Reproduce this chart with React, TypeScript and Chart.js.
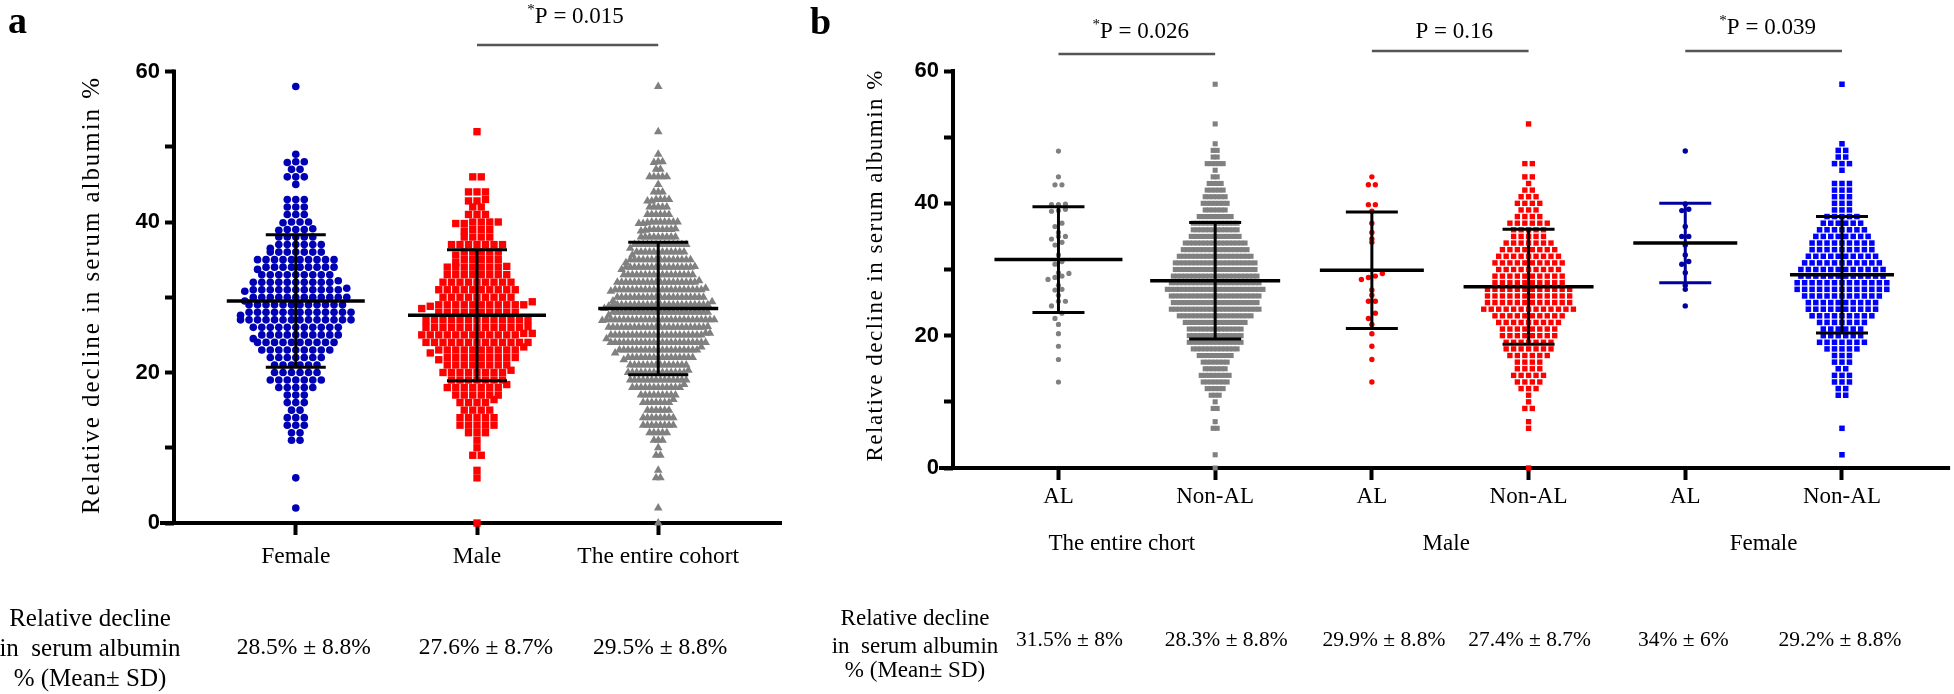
import React, { useEffect, useRef } from 'react';
import { Chart, registerables } from 'chart.js';

Chart.register(...registerables);

// ---------------- data ----------------
const panelACategories = ['Female', 'Male', 'The entire cohort'];
const panelBCategories = ['AL', 'Non-AL', 'AL', 'Non-AL', 'AL', 'Non-AL'];
const panelBGroups = ['The entire chort', 'Male', 'Female'];
const yTickValues = [0, 10, 20, 30, 40, 50, 60];
const yLabelledTicks = [0, 20, 40, 60];
const yAxisTitle = 'Relative decline in serum albumin %';

// number of non-AL patients at each whole percent (index = percent, 0..59)
const femaleNonAlCounts = [
  0, 0, 1, 0, 0, 0, 1, 0, 0, 0,
  0, 2, 2, 3, 3, 2, 3, 3, 5, 7,
  6, 6, 7, 9, 10, 10, 11, 13, 13, 12,
  12, 11, 10, 9, 9, 8, 7, 6, 5, 3,
  3, 3, 3, 3, 0, 1, 3, 2, 2, 1,
  0, 0, 0, 0, 0, 0, 0, 0, 1, 0,
];
const maleNonAlCounts = [
  1, 0, 0, 0, 0, 0, 1, 1, 0, 2,
  1, 1, 3, 4, 5, 4, 4, 6, 7, 7,
  8, 8, 9, 10, 13, 12, 12, 12, 10, 10,
  9, 10, 9, 8, 7, 5, 5, 6, 4, 3,
  4, 3, 2, 1, 2, 0, 2, 0, 0, 0,
  0, 0, 1, 0, 0, 0, 0, 0, 0, 0,
];
// individual AL patients
const femaleAlValues = [47.9, 39.9, 39.1, 38.9, 36.5, 35.0, 35.0, 33.7, 32.2, 31.2, 30.8, 29.5, 27.6, 27.0, 24.5];
const maleAlValues = [44.0, 42.8, 42.8, 39.8, 39.8, 38.8, 37.0, 35.6, 34.6, 34.1, 29.4, 29.0, 28.8, 28.5, 26.9, 26.1, 25.2, 25.2, 23.4, 22.6, 21.7, 20.3, 18.4, 16.4, 13.0];

const panelAMeans = [29.5, 27.6, 28.5];
const panelASds = [8.8, 8.7, 8.8];
const panelBMeans = [31.5, 28.3, 29.9, 27.4, 34.0, 29.2];
const panelBSds = [8.0, 8.8, 8.8, 8.7, 6.0, 8.8];

const panelAStatText = ['28.5% ± 8.8%', '27.6% ± 8.7%', '29.5% ± 8.8%'];
const panelBStatText = ['31.5% ± 8%', '28.3% ± 8.8%', '29.9% ± 8.8%', '27.4% ± 8.7%', '34% ± 6%', '29.2% ± 8.8%'];
const statRowTitle = ['Relative decline', 'in  serum albumin', '% (Mean± SD)'];

const panelAPairs = [[1, 2]];
const panelAPText = ['P = 0.015'];
const panelAPStar = [true];
const panelBPairs = [[0, 1], [2, 3], [4, 5]];
const panelBPText = ['P = 0.026', 'P = 0.16', 'P = 0.039'];
const panelBPStar = [true, false, true];

// ---------------- derived groups ----------------
const expand = (counts: number[]) => counts.flatMap((n, v) => Array(n).fill(v));
const femaleNonAl = expand(femaleNonAlCounts);
const maleNonAl = expand(maleNonAlCounts);
const femaleAll = [...femaleNonAl, ...femaleAlValues];
const maleAll = [...maleNonAl, ...maleAlValues];
const cohortAll = [...femaleAll, ...maleAll];
const cohortAl = [...maleAlValues, ...femaleAlValues];
const cohortNonAl = [...maleNonAl, ...femaleNonAl];

// ---------------- styles & layout ----------------
const SERIF = "'Liberation Serif', 'Times New Roman', Times, serif";
const SANS = "'Liberation Sans', Arial, Helvetica, sans-serif";
const GREY = '#808080';
const RED = '#ff0000';
const NAVY = '#0000b4';
const DARKNAVY = '#0000a0';
const BLUE = '#0000ff';

type Geom = { w: number; h: number; left: number; right: number; top: number; bottom: number; xMin: number; xMax: number; axisW: number; tickPad: number; tickFont: number };
const GEOM_A: Geom = { w: 800, h: 694, left: 174, right: 782, top: 71.5, bottom: 523, xMin: -0.672, xMax: 2.683, axisW: 60, tickPad: 8, tickFont: 23.5 };
const GEOM_B: Geom = { w: 1154, h: 694, left: 153, right: 1154, top: 71, bottom: 468, xMin: -0.673, xMax: 5.69, axisW: 60, tickPad: 3, tickFont: 23 };
const pxPerUnit = (g: Geom) => (g.right - g.left) / (g.xMax - g.xMin);

// GraphPad-like scatter-dot layout: rows at whole percent, centred on the category
function swarm(values: number[], cat: number, g: Geom, maxSpacing: number, maxWidth: number) {
  const rows = new Map<number, number[]>();
  values.forEach((v) => {
    const k = Math.round(v);
    if (!rows.has(k)) rows.set(k, []);
    rows.get(k)!.push(v);
  });
  let nMax = 1;
  rows.forEach((r) => { nMax = Math.max(nMax, r.length); });
  const s = nMax > 1 ? Math.min(maxSpacing, maxWidth / (nMax - 1)) : maxSpacing;
  const ppu = pxPerUnit(g);
  const pts: { x: number; y: number }[] = [];
  rows.forEach((r) => {
    r.sort((a, b) => a - b);
    r.forEach((v, i) => pts.push({ x: cat + ((i - (r.length - 1) / 2) * s) / ppu, y: v }));
  });
  return pts;
}

function makeDataset(values: number[], cat: number, g: Geom, shape: string, r: number, color: string, spacing: number, maxWidth: number) {
  return {
    data: swarm(values, cat, g, spacing, maxWidth),
    pointStyle: shape,
    pointRadius: r,
    pointHoverRadius: r,
    backgroundColor: color,
    borderColor: color,
    borderWidth: 0,
    clip: false as any,
  };
}

function line(ctx: CanvasRenderingContext2D, x1: number, y1: number, x2: number, y2: number) {
  ctx.beginPath();
  ctx.moveTo(x1, y1);
  ctx.lineTo(x2, y2);
  ctx.stroke();
}

function drawAxes(chart: any) {
  const { ctx, chartArea: ca, scales } = chart;
  const yTop = scales.y.getPixelForValue(60);
  ctx.save();
  ctx.strokeStyle = '#000';
  ctx.lineWidth = 4;
  line(ctx, ca.left, yTop - 2, ca.left, ca.bottom + 2);
  line(ctx, ca.left - 14, ca.bottom, ca.right, ca.bottom);
  ctx.restore();
}

function drawErrorBars(chart: any, means: number[], sds: number[], meanHalf: number[], capHalf: number, barColors: string[]) {
  const { ctx, scales: { x, y } } = chart;
  means.forEach((m, i) => {
    const px = x.getPixelForValue(i);
    const yM = y.getPixelForValue(m);
    const yH = y.getPixelForValue(m + sds[i]);
    const yL = y.getPixelForValue(m - sds[i]);
    ctx.save();
    ctx.strokeStyle = barColors[i];
    ctx.lineWidth = 3;
    line(ctx, px, yH, px, yL);
    line(ctx, px - capHalf, yH, px + capHalf, yH);
    line(ctx, px - capHalf, yL, px + capHalf, yL);
    ctx.strokeStyle = '#000';
    ctx.lineWidth = 3.5;
    line(ctx, px - meanHalf[i], yM, px + meanHalf[i], yM);
    ctx.restore();
  });
}

function drawRotatedTitle(ctx: any, text: string, cx: number, cy: number, font: string, targetLen: number) {
  ctx.save();
  ctx.font = font;
  const natural = ctx.measureText(text).width;
  const ls = Math.max(0, (targetLen - natural) / (text.length - 1));
  ctx.translate(cx, cy);
  ctx.rotate(-Math.PI / 2);
  ctx.letterSpacing = `${ls}px`;
  ctx.fillStyle = '#000';
  ctx.textAlign = 'center';
  ctx.textBaseline = 'middle';
  ctx.fillText(text, ls / 2, 0);
  ctx.restore();
}

function drawComparisons(chart: any, pairs: number[][], texts: string[], stars: boolean[], lineYs: number[], baselines: number[], dx: number) {
  const { ctx, scales: { x } } = chart;
  pairs.forEach(([a, b], i) => {
    const x1 = x.getPixelForValue(a);
    const x2 = x.getPixelForValue(b);
    ctx.save();
    ctx.strokeStyle = '#555';
    ctx.lineWidth = 2.5;
    line(ctx, x1, lineYs[i], x2, lineYs[i]);
    ctx.font = `23px ${SERIF}`;
    const w = ctx.measureText(texts[i]).width;
    ctx.font = `15px ${SERIF}`;
    const sw = stars[i] ? ctx.measureText('*').width : 0;
    const start = (x1 + x2) / 2 + dx - (w + sw) / 2;
    ctx.fillStyle = '#000';
    ctx.textAlign = 'left';
    ctx.textBaseline = 'alphabetic';
    if (stars[i]) ctx.fillText('*', start, baselines[i] - 9);
    ctx.font = `23px ${SERIF}`;
    ctx.fillText(texts[i], start + sw, baselines[i]);
    ctx.restore();
  });
}

function drawStatTitle(ctx: any, cx: number, baselines: number[], size: number) {
  ctx.save();
  ctx.font = `${size}px ${SERIF}`;
  ctx.fillStyle = '#000';
  ctx.textAlign = 'center';
  ctx.textBaseline = 'alphabetic';
  statRowTitle.forEach((t, i) => ctx.fillText(t, cx, baselines[i]));
  ctx.restore();
}

function drawStatValues(chart: any, texts: string[], baseline: number, dxs: number[], size: number) {
  const { ctx, scales: { x } } = chart;
  ctx.save();
  ctx.font = `${size}px ${SERIF}`;
  ctx.fillStyle = '#000';
  ctx.textAlign = 'center';
  ctx.textBaseline = 'alphabetic';
  texts.forEach((t, i) => ctx.fillText(t, x.getPixelForValue(i) + dxs[i], baseline));
  ctx.restore();
}

const panelAPlugin = {
  id: 'panelADecor',
  beforeDatasetsDraw(chart: any) { drawAxes(chart); },
  afterDatasetsDraw(chart: any) {
    drawErrorBars(chart, panelAMeans, panelASds, [69, 69, 60], 30, ['#000', '#000', '#000']);
  },
  afterDraw(chart: any) {
    const { ctx } = chart;
    ctx.save();
    ctx.fillStyle = '#000';
    ctx.font = `bold 38px ${SERIF}`;
    ctx.textAlign = 'left';
    ctx.textBaseline = 'alphabetic';
    ctx.fillText('a', 8, 33);
    ctx.restore();
    drawRotatedTitle(ctx, yAxisTitle, 92, 296, `25px ${SERIF}`, 436);
    drawComparisons(chart, panelAPairs, panelAPText, panelAPStar, [45], [23], 8);
    drawStatTitle(ctx, 90, [626, 656, 686], 25);
    drawStatValues(chart, panelAStatText, 654, [8, 9, 2], 23.5);
  },
};

const groupLabelShift = [-15, -4, 0];

const panelBPlugin = {
  id: 'panelBDecor',
  beforeDatasetsDraw(chart: any) { drawAxes(chart); },
  afterDatasetsDraw(chart: any) {
    drawErrorBars(chart, panelBMeans, panelBSds, [64, 65, 52, 65, 52, 52], 26, ['#000', '#000', '#000', '#000', DARKNAVY, '#000']);
  },
  afterDraw(chart: any) {
    const { ctx, scales: { x } } = chart;
    ctx.save();
    ctx.fillStyle = '#000';
    ctx.font = `bold 38px ${SERIF}`;
    ctx.textAlign = 'left';
    ctx.textBaseline = 'alphabetic';
    ctx.fillText('b', 10, 34);
    ctx.font = `23px ${SERIF}`;
    ctx.textAlign = 'center';
    panelBGroups.forEach((g, i) => {
      const mid = (x.getPixelForValue(2 * i) + x.getPixelForValue(2 * i + 1)) / 2;
      ctx.fillText(g, mid + groupLabelShift[i], 550);
    });
    ctx.restore();
    drawRotatedTitle(ctx, yAxisTitle, 76, 266, `23px ${SERIF}`, 391);
    drawComparisons(chart, panelBPairs, panelBPText, panelBPStar, [54, 51, 51], [38, 38, 34], 4);
    drawStatTitle(ctx, 115, [625, 653, 677], 23);
    drawStatValues(chart, panelBStatText, 646, [11, 11, 12, 1, -2, -2], 21.5);
  },
};

function makeConfig(g: Geom, categories: string[], datasets: any[], plugin: any): any {
  return {
    type: 'scatter',
    data: { datasets },
    options: {
      animation: false,
      responsive: false,
      maintainAspectRatio: false,
      events: [],
      layout: { padding: { left: g.left - g.axisW, right: g.w - g.right, top: g.top, bottom: 0 } },
      plugins: { legend: { display: false }, tooltip: { enabled: false }, title: { display: false } },
      scales: {
        x: {
          type: 'linear',
          min: g.xMin,
          max: g.xMax,
          afterFit: (s: any) => { s.height = g.h - g.bottom; },
          afterBuildTicks: (s: any) => { s.ticks = categories.map((_, i) => ({ value: i })); },
          ticks: {
            autoSkip: false,
            maxRotation: 0,
            minRotation: 0,
            padding: g.tickPad,
            color: '#000',
            font: { family: SERIF, size: g.tickFont },
            callback: (v: number) => categories[v] ?? '',
          },
          grid: { drawOnChartArea: false, drawTicks: true, tickLength: 12, tickWidth: 4, tickColor: '#000' },
          border: { display: false },
        },
        y: {
          type: 'linear',
          min: 0,
          max: 60,
          afterFit: (s: any) => { s.width = g.axisW; },
          afterBuildTicks: (s: any) => { s.ticks = yTickValues.map((v) => ({ value: v })); },
          ticks: {
            autoSkip: false,
            padding: 5,
            color: '#000',
            font: { family: SANS, size: 22, weight: 'bold' },
            callback: (v: number) => (yLabelledTicks.includes(v) ? String(v) : ''),
          },
          grid: { drawOnChartArea: false, drawTicks: true, tickLength: 9, tickWidth: 4, tickColor: '#000' },
          border: { display: false },
        },
      },
    },
    plugins: [plugin],
  };
}

export default function App() {
  const refA = useRef<HTMLCanvasElement>(null);
  const refB = useRef<HTMLCanvasElement>(null);

  useEffect(() => {
    const dsA = [
      makeDataset(femaleAll, 0, GEOM_A, 'circle', 3.8, NAVY, 8.5, 112),
      makeDataset(maleAll, 1, GEOM_A, 'rect', 5.2, RED, 8.5, 114),
      makeDataset(cohortAll, 2, GEOM_A, 'triangle', 5, GREY, 8.5, 112),
    ];
    const dsB = [
      makeDataset(cohortAl, 0, GEOM_B, 'circle', 2.6, GREY, 7, 96),
      makeDataset(cohortNonAl, 1, GEOM_B, 'rect', 3.6, GREY, 7.5, 96),
      makeDataset(maleAlValues, 2, GEOM_B, 'circle', 2.7, RED, 7, 96),
      makeDataset(maleNonAl, 3, GEOM_B, 'rect', 3.8, RED, 7.5, 96),
      makeDataset(femaleAlValues, 4, GEOM_B, 'circle', 2.7, DARKNAVY, 7, 96),
      makeDataset(femaleNonAl, 5, GEOM_B, 'rect', 3.9, BLUE, 7.5, 96),
    ];
    const a = new Chart(refA.current!, makeConfig(GEOM_A, panelACategories, dsA, panelAPlugin));
    const b = new Chart(refB.current!, makeConfig(GEOM_B, panelBCategories, dsB, panelBPlugin));
    return () => {
      a.destroy();
      b.destroy();
    };
  }, []);

  return (
    <div style={{ position: 'absolute', left: 0, top: 0, width: 1954, height: 694, background: '#fff', overflow: 'hidden' }}>
      <canvas ref={refA} width={800} height={694} style={{ position: 'absolute', left: 0, top: 0, width: 800, height: 694 }} />
      <canvas ref={refB} width={1154} height={694} style={{ position: 'absolute', left: 800, top: 0, width: 1154, height: 694 }} />
    </div>
  );
}
